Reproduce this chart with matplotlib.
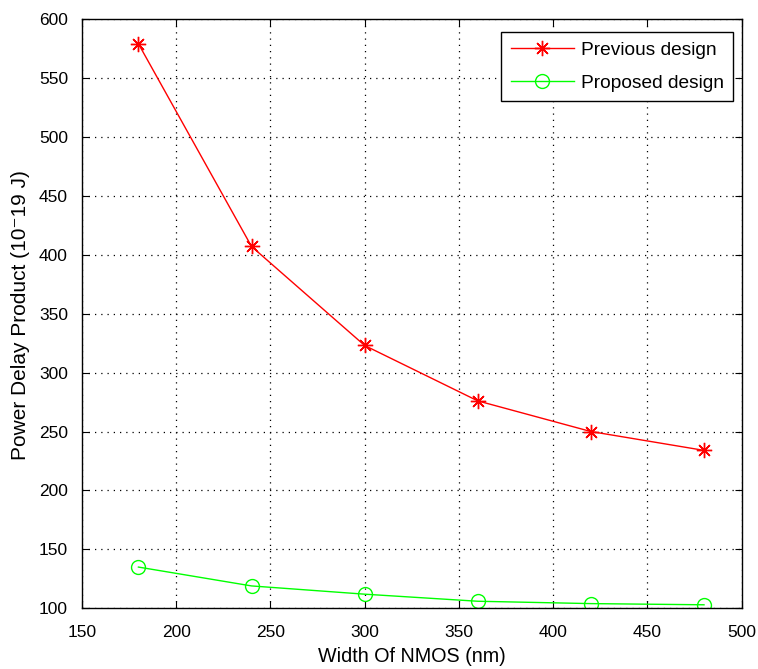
import matplotlib
matplotlib.use("Agg")
import matplotlib.pyplot as plt

plt.rcParams['font.family'] = ['Liberation Sans', 'DejaVu Sans']

widths = [180, 240, 300, 360, 420, 480]
previous = [579, 407, 323, 276, 250, 234]
proposed = [135, 119, 112, 106, 104, 103]
xticks = [150, 200, 250, 300, 350, 400, 450, 500]
yticks = [100, 150, 200, 250, 300, 350, 400, 450, 500, 550, 600]

fig = plt.figure(figsize=(7.58, 6.69), dpi=100)
ax = fig.add_axes([0.108, 0.0907, 0.8705, 0.8809])

ax.plot(widths, previous, color='#ff0000', marker=(8, 2, 0), markersize=11,
        markeredgewidth=1, linewidth=1, label='Previous design')
ax.plot(widths, proposed, color='#00ff00', marker='o', markersize=10,
        markerfacecolor='none', markeredgewidth=1, linewidth=1, label='Proposed design')

ax.set_xlim(150, 500)
ax.set_ylim(100, 600)
ax.set_xticks(xticks)
ax.set_yticks(yticks)
ax.tick_params(axis='both', direction='in', top=True, right=True, length=5,
               labelsize=12.5, color='black')
ax.tick_params(axis='y', pad=10)
ax.tick_params(axis='x', pad=12)
ax.grid(True, linestyle=(0, (1, 4)), color='black', linewidth=0.9)
for s in ax.spines.values():
    s.set_linewidth(1)

ax.set_xlabel('Width Of NMOS (nm)', fontsize=14.2, labelpad=5)
ax.set_ylabel('Power Delay Product (10⁻19 J)', fontsize=15)
ax.yaxis.set_label_coords(-0.079, 0.498)

leg = ax.legend(loc='upper right', bbox_to_anchor=(0.987, 0.978), borderaxespad=0,
                fontsize=13.8, fancybox=False, framealpha=1, edgecolor='black',
                handlelength=3.3, handletextpad=0.35, labelspacing=0.8,
                borderpad=0.5)
leg.get_frame().set_linewidth(1)

fig.savefig('out.png', dpi=100)
